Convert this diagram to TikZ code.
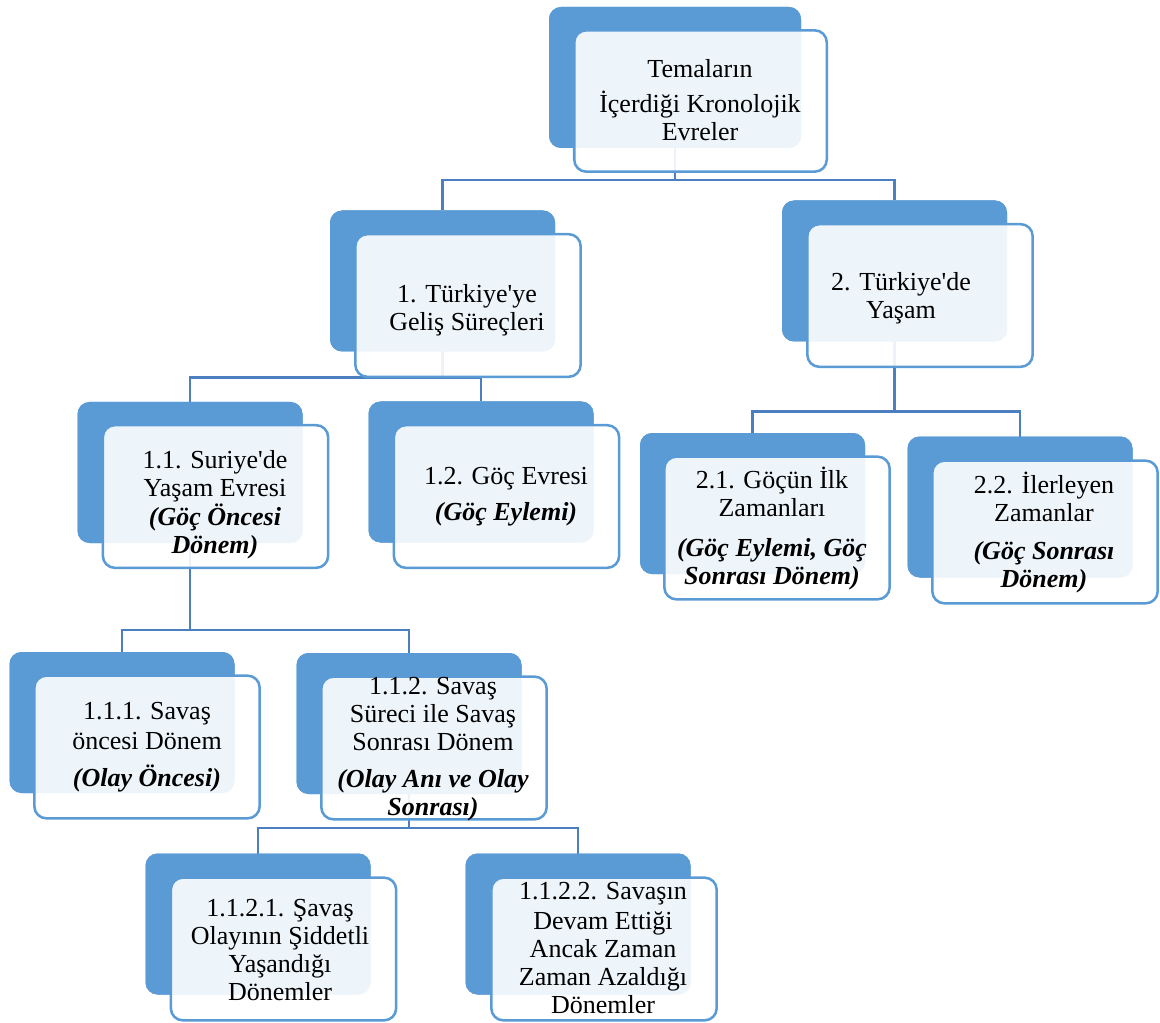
\documentclass[tikz,border=0pt]{standalone}
\usepackage{fontspec}
\setmainfont{Liberation Serif}[Ligatures=TeXOff]
\definecolor{boxblue}{HTML}{5B9BD5}
\definecolor{linkblue}{HTML}{4C7FBF}
\newcommand{\bitx}[1]{\textbf{\textit{#1}}}
\begin{document}
\begin{tikzpicture}[x=0.75pt,y=-0.75pt,
  backbox/.style={fill=boxblue, draw=none, rounded corners=9pt, inner sep=0pt, outer sep=0pt,
    minimum width=168.75pt, minimum height=105.75pt},
  frontbox/.style={draw=boxblue, line width=1.9pt, fill=white, fill opacity=0.9, rounded corners=9pt,
    inner sep=0pt, minimum width=169pt, minimum height=107pt},
  conn/.style={draw=linkblue, line width=2pt},
  txt/.style={align=center, inner sep=0pt, font=\fontsize{19.5pt}{21pt}\selectfont, text=black}]
\useasboundingbox (0,0) rectangle (1160,1023);
% ---- back boxes (anchors for the connectors)
\node[backbox, minimum width=189pt] (top) at (675,77.5) {};
\node[backbox] (n1) at (442.5,281) {};
\node[backbox] (n2) at (894.5,271) {};
\node[backbox] (n11) at (190,472.5) {};
\node[backbox] (n12) at (481,472) {};
\node[backbox] (n21) at (752.5,503.5) {};
\node[backbox] (n22) at (1020,507) {};
\node[backbox] (n111) at (122,722.5) {};
\node[backbox] (n112) at (409,723.5) {};
\node[backbox] (n1121) at (258,924) {};
\node[backbox] (n1122) at (578,924) {};
% ---- connectors
\draw[conn] (top.south) -- ++(0,32) -| (n1.north);
\draw[conn] (top.south) -- ++(0,32) -| (n2.north);
\draw[conn] (n1.south) -- ++(0,26) -| (n11.north);
\draw[conn] (n1.south) -- ++(0,26) -| (n12.north);
\draw[conn] (n2.south) -- ++(0,70) -| (n21.north);
\draw[conn] (n2.south) -- ++(0,70) -| (n22.north);
\draw[conn] (n11.south) -- ++(0,87) -| (n111.north);
\draw[conn] (n11.south) -- ++(0,87) -| (n112.north);
\draw[conn] (n112.south) -- ++(0,34) -| (n1121.north);
\draw[conn] (n112.south) -- ++(0,34) -| (n1122.north);
% ---- back boxes again, over the connector ends
\node[backbox, minimum width=189pt] (topb) at (675,77.5) {};
\node[backbox] (n1b) at (442.5,281) {};
\node[backbox] (n2b) at (894.5,271) {};
\node[backbox] (n11b) at (190,472.5) {};
\node[backbox] (n12b) at (481,472) {};
\node[backbox] (n21b) at (752.5,503.5) {};
\node[backbox] (n22b) at (1020,507) {};
\node[backbox] (n111b) at (122,722.5) {};
\node[backbox] (n112b) at (409,723.5) {};
\node[backbox] (n1121b) at (258,924) {};
\node[backbox] (n1122b) at (578,924) {};
% ---- front boxes
\node[frontbox, minimum width=189.4pt, minimum height=106pt] (topf) at (700.5,101) {};
\node[frontbox] (n1f) at (468,305.5) {};
\node[frontbox] (n2f) at (920,295.5) {};
\node[frontbox] (n11f) at (215.5,496.5) {};
\node[frontbox] (n12f) at (506.5,496.5) {};
\node[frontbox] (n21f) at (777,528) {};
\node[frontbox] (n22f) at (1045,532) {};
\node[frontbox] (n111f) at (147,747) {};
\node[frontbox] (n112f) at (434,748) {};
\node[frontbox] (n1121f) at (283.5,949) {};
\node[frontbox] (n1122f) at (604,949) {};
% ---- texts
\node[txt] (ttop) at (700,100) {Temaların\\[5pt]İçerdiği Kronolojik\\Evreler};
\node[txt] (tn1) at (467,310.5) {1. Türkiye'ye\\Geliş Süreçleri};
\node[txt] (tn2) at (901,298) {2. Türkiye'de\\Yaşam};
\node[txt] (tn11) at (215,505) {1.1. Suriye'de\\Yaşam Evresi\\[1pt]\bitx{(Göç Öncesi}\\\bitx{Dönem)}};
\node[txt] (tn12) at (506,497) {1.2. Göç Evresi\\[6pt]\bitx{(Göç Eylemi)}};
\node[txt] (tn21) at (772,529) {2.1. Göçün İlk\\Zamanları\\[9pt]\bitx{(Göç Eylemi, Göç}\\\bitx{Sonrası Dönem)}};
\node[txt] (tn22) at (1044,533) {2.2. İlerleyen\\Zamanlar\\[7.5pt]\bitx{(Göç Sonrası}\\\bitx{Dönem)}};
\node[txt] (tn111) at (147,747.5) {1.1.1. Savaş\\[1.5pt]öncesi Dönem\\[7pt]\bitx{(Olay Öncesi)}};
\node[txt] (tn112) at (433,749) {1.1.2. Savaş\\Süreci ile Savaş\\Sonrası Dönem\\[6.5pt]\bitx{(Olay Anı ve Olay}\\\bitx{Sonrası)}};
\node[txt] (tn1121) at (280,950.5) {1.1.2.1. Şavaş\\Olayının Şiddetli\\Yaşandığı\\Dönemler};
\node[txt] (tn1122) at (603,948) {1.1.2.2. Savaşın\\[1.5pt]Devam Ettiği\\Ancak Zaman\\Zaman Azaldığı\\Dönemler};
\end{tikzpicture}
\end{document}
